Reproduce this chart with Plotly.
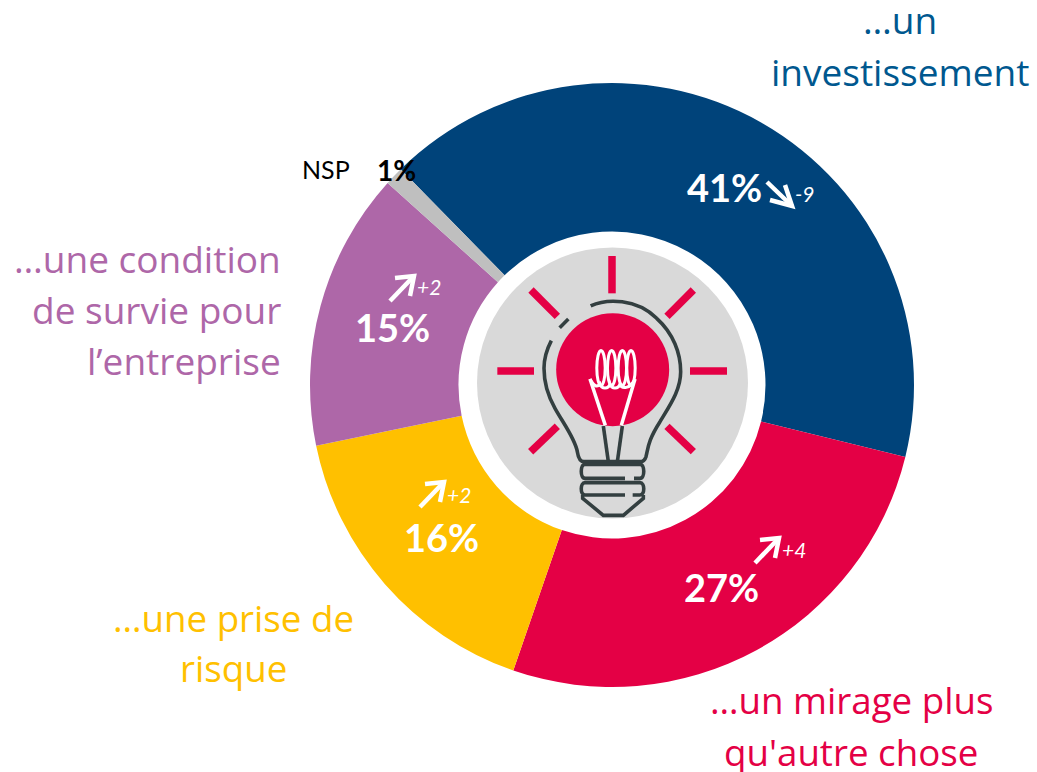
import plotly.graph_objects as go

W, H = 1037, 772
# Data
categories = ["…un investissement", "…un mirage plus qu'autre chose", "…une prise de risque",
              "…une condition de survie pour l’entreprise", "NSP"]
shares = [41.2, 26.5, 16.5, 14.9, 1.0]
share_labels = ["41%", "27%", "16%", "15%", "1%"]
change_labels = ["-9", "+4", "+2", "+2"]
colors = ["#00437A", "#E40045", "#FFC000", "#AE67A8", "#BFBFBF"]
RED = "#E40045"
DARK = "#333F40"
LABEL_FONT = "Open Sans"
NUM_FONT = "Lato"

cx, cy, R = 612, 385, 302

def px(x): return x / W
def py(y): return 1 - y / H
def zx(x): return 460 + x / 3
def zy(y): return 230 + y / 3
def zp(pts, close=False):
    s = "M" + " L".join(f"{px(zx(a)):.5f},{py(zy(b)):.5f}" for a, b in pts)
    return s + (" Z" if close else "")
def zcurve(cmds):
    out = []
    for c in cmds:
        out.append(c[0] + " ".join(f"{px(zx(c[i])):.5f},{py(zy(c[i+1])):.5f}" for i in range(1, len(c), 2)))
    return " ".join(out)

fig = go.Figure(go.Pie(
    labels=categories, values=shares, sort=False, direction="clockwise", rotation=315.6,
    hole=153.5 / 302, marker=dict(colors=colors, line=dict(width=0)),
    textinfo="none", hoverinfo="label+text", text=share_labels, showlegend=False,
    domain=dict(x=[px(cx - R), px(cx + R)], y=[py(cy + R), py(cy - R)]),
))

shapes = []
def circle(x, y, rx, ry=None, fill=None, line=None, lw=0):
    ry = rx if ry is None else ry
    shapes.append(dict(type="circle", xref="paper", yref="paper",
                       x0=px(x - rx), x1=px(x + rx), y0=py(y + ry), y1=py(y - ry),
                       fillcolor=fill or "rgba(0,0,0,0)", line=dict(color=line or "rgba(0,0,0,0)", width=lw)))
def path(d, color, lw, fill=None):
    shapes.append(dict(type="path", xref="paper", yref="paper", path=d,
                       fillcolor=fill or "rgba(0,0,0,0)", line=dict(color=color, width=lw)))

circle(612.5, 383, 135.5, fill="#D9D9D9")
circle(zx(458), zy(419), 56.5, fill=RED)

# rays
for seg in [[(456, 78), (456, 190)], [(690, 423), (801, 423)], [(112, 423), (222, 423)],
            [(213, 180), (292, 259)], [(700, 180), (621, 259)], [(292, 589), (212, 665)], [(621, 589), (700, 665)]]:
    path(zp(seg), RED, 7.5)

# bulb outline
BW = 3.6
path(zcurve([("M", 392, 228), ("C", 440, 205, 530, 205, 590, 265), ("C", 640, 310, 662, 370, 662, 425),
             ("C", 662, 480, 630, 525, 600, 575), ("C", 565, 630, 565, 650, 558, 680),
             ("C", 555, 690, 550, 695, 540, 695), ("L", 372, 695),
             ("C", 360, 695, 355, 685, 352, 665), ("C", 345, 625, 310, 580, 285, 535),
             ("C", 262, 495, 252, 460, 252, 415), ("C", 252, 385, 262, 355, 274, 332)]), DARK, BW)
path(zp([(299, 293), (325, 267)]), DARK, BW)
# stems
path(zp([(430, 588), (445, 695)]), DARK, BW)
path(zp([(487, 588), (472, 695)]), DARK, BW)
# screw base
for y0, y1 in [(703, 745), (758, 795)]:
    path(zcurve([("M", 375, y0), ("L", 540, y0), ("C", 555, y0, 555, y1, 540, y1), ("L", 522 if y0 == 703 else 518, y1)]), DARK, BW)
    path(zcurve([("M", 495, y1), ("L", 375, y1), ("C", 360, y1, 360, y0, 375, y0)]), DARK, BW)
path(zp([(368, 795), (368, 805), (430, 856), (490, 856), (550, 805), (550, 795)]), DARK, BW)
# filament
path(zp([(436, 586), (390, 447)]), "white", 3.5)
path(zp([(484, 586), (525, 447)]), "white", 3.5)
for ex in (423, 455, 487, 513):
    circle(zx(ex), zy(414), 4.2, 17.5, line="white", lw=3)
path(zcurve([("M", 390, 447), ("C", 400, 465, 410, 475, 420, 462), ("C", 425, 478, 445, 478, 450, 462),
             ("C", 455, 478, 475, 478, 480, 462), ("C", 485, 478, 510, 478, 525, 447)]), "white", 3)

# change arrows
def arrow(x, y, up):
    if up:
        pts_l = [(x, y), (x + 24, y - 25)]
        head = [(x + 5, y - 23), (x + 24, y - 25), (x + 20, y - 5)]
    else:
        pts_l = [(x, y), (x + 25, y + 24)]
        head = [(x + 3, y + 18), (x + 25, y + 24), (x + 18, y + 3)]
    for p in (pts_l, head):
        path("M" + " L".join(f"{px(a):.5f},{py(b):.5f}" for a, b in p), "white", 4.5)
arrow(767, 182, False)
arrow(755, 563, True)
arrow(420, 507, True)
arrow(390, 301, True)

ann = []
def text(t, x, y, size, color, font, anchor="center"):
    ann.append(dict(text=t, x=px(x), y=py(y), xref="paper", yref="paper", xanchor=anchor, yanchor="middle",
                    showarrow=False, align="center" if anchor == "center" else anchor,
                    font=dict(size=size, color=color, family=font)))

# percentages
for lab, (x, y) in zip(share_labels[:4], [(724, 187), (721, 587), (441, 537), (392, 327)]):
    text(f"<b>{lab}</b>", x, y, 38, "white", NUM_FONT)
text(f"<b>{share_labels[4]}</b>", 396, 170, 28, "black", NUM_FONT)
text("NSP", 326, 169, 25, "black", NUM_FONT)
for lab, (x, y) in zip(change_labels, [(805, 193), (794, 549), (459, 494), (429, 286)]):
    text(f"<i>{lab}</i>", x, y, 21, "white", NUM_FONT)

# category labels
for t, y in [("…un", 20), ("investissement", 71)]:
    text(t, 900, y, 37, "#00588F", LABEL_FONT)
for t, y in [("…un mirage plus", 700), ("qu'autre chose", 752)]:
    text(t, 851, y, 36.7, RED, LABEL_FONT)
for t, y in [("…une prise de", 618), ("risque", 668)]:
    text(t, 233, y, 36.7, "#FFC000", LABEL_FONT)
for t, y in [("…une condition", 258), ("de survie pour", 309), ("l’entreprise", 360)]:
    text(t, 283, y, 37, "#AE67A8", LABEL_FONT, "right")

fig.update_layout(width=W, height=H, autosize=False, margin=dict(l=0, r=0, t=0, b=0),
                  paper_bgcolor="white", plot_bgcolor="white", shapes=shapes, annotations=ann, showlegend=False)
fig.write_html("out.html", config=dict(displayModeBar=False),
               post_script="document.body.style.margin='0';document.documentElement.style.overflow='hidden';")
